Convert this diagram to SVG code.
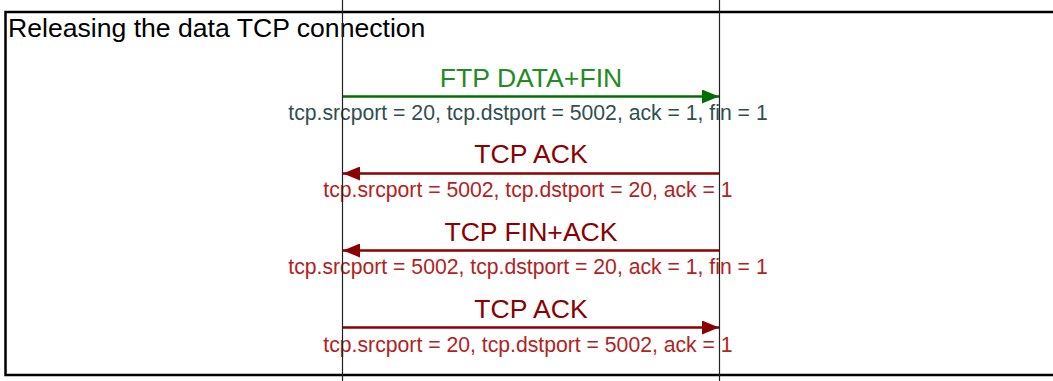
<svg xmlns="http://www.w3.org/2000/svg" width="1053" height="381" viewBox="0 0 1053 381">
  <style>
    .frame { fill: #ffffff; stroke: #000000; stroke-width: 2.5; }
    .title { font-family: "Liberation Sans", Arial, sans-serif; font-size: 26.6px; fill: #000000; }
    .lbl { font-family: "Liberation Sans", Arial, sans-serif; font-size: 26.6px; text-anchor: middle; }
    .sub { font-family: "Liberation Sans", Arial, sans-serif; font-size: 21.2px; text-anchor: middle; }
    .life { stroke: #222222; stroke-width: 1.2; fill: none; }
    .g { stroke: #006f00; stroke-width: 2.7; fill: none; }
    .r { stroke: #8b0000; stroke-width: 2.7; fill: none; }
  </style>
  <defs>
    <marker id="ag" markerUnits="userSpaceOnUse" markerWidth="18" markerHeight="14" refX="17" refY="7" orient="auto">
      <path d="M0,0 L17,7 L0,14 Z" fill="#006f00"/>
    </marker>
    <marker id="ar" markerUnits="userSpaceOnUse" markerWidth="18" markerHeight="14" refX="17" refY="7" orient="auto">
      <path d="M0,0 L17,7 L0,14 Z" fill="#8b0000"/>
    </marker>
  </defs>
  <g id="frame">
    <rect class="frame" x="5.5" y="12" width="1100" height="363"/>
    <text class="title" x="8" y="37">Releasing the data TCP connection</text>
  </g>
  <g id="connectors">
    <line class="g" x1="343" y1="96.5" x2="719" y2="96.5" marker-end="url(#ag)"/>
    <text class="lbl" x="531" y="86.5" fill="#228b22">FTP DATA+FIN</text>
    <text class="sub" x="528" y="119.5" fill="#2f4f4f">tcp.srcport = 20, tcp.dstport = 5002, ack = 1, fin = 1</text>

    <line class="r" x1="719" y1="173.5" x2="343" y2="173.5" marker-end="url(#ar)"/>
    <text class="lbl" x="531" y="163.3" fill="#8b0000">TCP ACK</text>
    <text class="sub" x="528" y="196.7" fill="#b22222">tcp.srcport = 5002, tcp.dstport = 20, ack = 1</text>

    <line class="r" x1="719" y1="250.5" x2="343" y2="250.5" marker-end="url(#ar)"/>
    <text class="lbl" x="531" y="240.5" fill="#8b0000">TCP FIN+ACK</text>
    <text class="sub" x="528" y="274.3" fill="#b22222">tcp.srcport = 5002, tcp.dstport = 20, ack = 1, fin = 1</text>

    <line class="r" x1="343" y1="327.5" x2="719" y2="327.5" marker-end="url(#ar)"/>
    <text class="lbl" x="531" y="317.5" fill="#8b0000">TCP ACK</text>
    <text class="sub" x="528" y="351.7" fill="#b22222">tcp.srcport = 20, tcp.dstport = 5002, ack = 1</text>
  </g>
  <g id="client">
    <line class="life" x1="342.5" y1="0" x2="342.5" y2="381"/>
  </g>
  <g id="server">
    <line class="life" x1="719.5" y1="0" x2="719.5" y2="381"/>
  </g>
</svg>
